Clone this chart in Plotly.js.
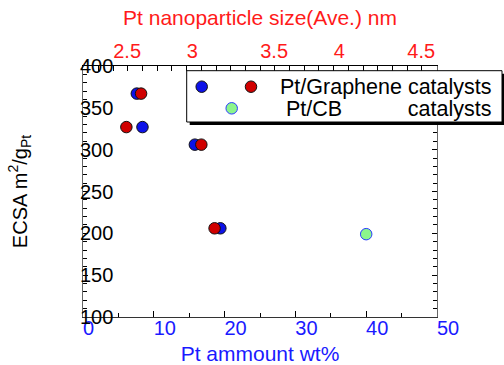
<!DOCTYPE html>
<html>
<head>
<meta charset="utf-8">
<script src="https://cdn.plot.ly/plotly-3.0.1.min.js"></script>
<style>html,body{margin:0;padding:0;background:#fff;}#chart{width:504px;height:365px;}</style>
</head>
<body>
<div id="chart"></div>
<script>
// ---- data ----
var grapheneWt = [7.6, 8.4, 15.8, 19.4];          // Pt amount wt% (bottom axis)
var grapheneEcsa = [367, 327, 306, 206];          // ECSA m2/gPt
var grapheneSize = [2.69, 2.59, 3.10, 3.19];      // Pt nanoparticle size nm (top axis)
var cbWt = [40];
var cbEcsa = [199];
var bottomTickVals = [0, 10, 20, 30, 40, 50];
var bottomTickText = ['0\u00A0\u00A0', '10', '20', '30', '40', '50'];
var topTickVals = [2.5, 3, 3.5, 4, 4.5];
var topTickText = ['2.5', '3\u00A0\u00A0\u00A0', '3.5', '4\u00A0\u00A0\u00A0', '4.5'];
var legendRow1 = 'Pt/Graphene catalysts';
var legendRow2 = 'Pt/CB' + '\u00A0'.repeat(11) + 'catalysts';

var FONT = 'Arial, "Liberation Sans", sans-serif';
var BLUE = '#1a1aff', RED = '#ff1a1a';

// plot area in pixels
var L = 83, R = 437, T = 66, B = 317;
function px(x){ return (x - L) / (R - L); }
function py(y){ return (B - y) / (B - T); }

var MS = 11.5;
var traces = [
  {x: grapheneWt, y: grapheneEcsa, xaxis: 'x', yaxis: 'y', mode: 'markers', type: 'scatter',
   name: 'Pt/Graphene (wt%)', showlegend: false, cliponaxis: false,
   marker: {size: MS, color: '#0d12e8', line: {color: '#111', width: 1}}},
  {x: cbWt, y: cbEcsa, xaxis: 'x', yaxis: 'y', mode: 'markers', type: 'scatter',
   name: 'Pt/CB', showlegend: false, cliponaxis: false,
   marker: {size: MS, color: '#8cf58c', line: {color: '#2a3cff', width: 1}}},
  {x: grapheneSize, y: grapheneEcsa, xaxis: 'x2', yaxis: 'y', mode: 'markers', type: 'scatter',
   name: 'Pt/Graphene (size)', showlegend: false, cliponaxis: false,
   marker: {size: MS, color: '#d00000', line: {color: '#111', width: 1}}}
];

function circ(cx, cy, fill, line){
  var r = MS / 2;
  return {type: 'circle', xref: 'paper', yref: 'paper', xsizemode: 'pixel', ysizemode: 'pixel',
    xanchor: px(cx), yanchor: py(cy), x0: -r, x1: r, y0: -r, y1: r,
    fillcolor: fill, line: {color: line, width: 1}, layer: 'above'};
}

var layout = {
  width: 504, height: 365,
  margin: {l: L, r: 504 - R, t: T, b: 365 - B, pad: 0},
  paper_bgcolor: '#fff', plot_bgcolor: '#fff',
  showlegend: false,
  font: {family: FONT, size: 20, color: '#000'},
  xaxis: {
    range: [0, 50], side: 'bottom', anchor: 'y',
    showline: true, linecolor: '#333', linewidth: 1, mirror: false,
    showgrid: false, zeroline: false,
    tickmode: 'array', tickvals: bottomTickVals, ticktext: bottomTickText,
    ticks: 'inside', ticklen: 6, tickwidth: 1, tickcolor: '#000',
    ticklabelshift: 11, ticklabelstandoff: -7,
    minor: {ticks: 'inside', dtick: 5, tick0: 0, ticklen: 4, tickcolor: '#000', showgrid: false},
    tickfont: {family: FONT, size: 20, color: BLUE},
    title: {text: 'Pt ammount wt%', font: {family: FONT, size: 21, color: BLUE}, standoff: 8}
  },
  xaxis2: {
    range: [2.295, 4.703], overlaying: 'x', side: 'top', anchor: 'y',
    showline: true, linecolor: '#000', linewidth: 1,
    showgrid: false, zeroline: false,
    tickmode: 'array', tickvals: topTickVals, ticktext: topTickText,
    ticks: 'inside', ticklen: 5, tickwidth: 1, tickcolor: '#000',
    ticklabelshift: 14, ticklabelstandoff: -1,
    minor: {ticks: 'inside', dtick: 0.1, tick0: 0, ticklen: 5, tickcolor: '#000', showgrid: false},
    tickfont: {family: FONT, size: 20, color: RED},
    title: {text: 'Pt nanoparticle size(Ave.) nm', font: {family: FONT, size: 21, color: RED}, standoff: 8}
  },
  yaxis: {
    range: [100, 400], showline: true, linecolor: '#666', linewidth: 1, mirror: 'ticks',
    showgrid: false, zeroline: false,
    tickmode: 'linear', tick0: 100, dtick: 50,
    ticks: 'inside', ticklen: 5, tickwidth: 1, tickcolor: '#000',
    ticklabelposition: 'inside', ticklabeloverflow: 'allow', ticklabelstandoff: -7,
    minor: {ticks: 'inside', dtick: 10, tick0: 100, ticklen: 4, tickcolor: '#000', showgrid: false},
    tickfont: {family: FONT, size: 20, color: '#000'},
    title: {text: 'ECSA m<sup>2</sup>/g<sub>Pt</sub>', font: {family: FONT, size: 20, color: '#000'}, standoff: 47}
  },
  shapes: [
    // legend shadow
    {type: 'rect', xref: 'paper', yref: 'paper', x0: px(189.7), x1: px(506), y0: py(125), y1: py(73.7),
     fillcolor: '#000', line: {width: 0}, layer: 'above'},
    // legend box
    {type: 'rect', xref: 'paper', yref: 'paper', x0: px(186.7), x1: px(502), y0: py(122), y1: py(70.7),
     fillcolor: '#fff', line: {color: '#000', width: 1}, layer: 'above'},
    circ(201.7, 86.7, '#0d12e8', '#111'),
    circ(251, 86.7, '#d00000', '#111'),
    circ(231.7, 108.3, '#8cf58c', '#2a3cff')
  ],
  annotations: [
    {xref: 'paper', yref: 'paper', x: px(278), y: py(87), xanchor: 'left', yanchor: 'middle',
     text: legendRow1, showarrow: false, font: {family: FONT, size: 21.5, color: '#000'}},
    {xref: 'paper', yref: 'paper', x: px(284), y: py(108.5), xanchor: 'left', yanchor: 'middle',
     text: legendRow2, showarrow: false, font: {family: FONT, size: 21.5, color: '#000'}}
  ]
};

Plotly.newPlot('chart', traces, layout, {staticPlot: true, displayModeBar: false});
</script>
</body>
</html>
